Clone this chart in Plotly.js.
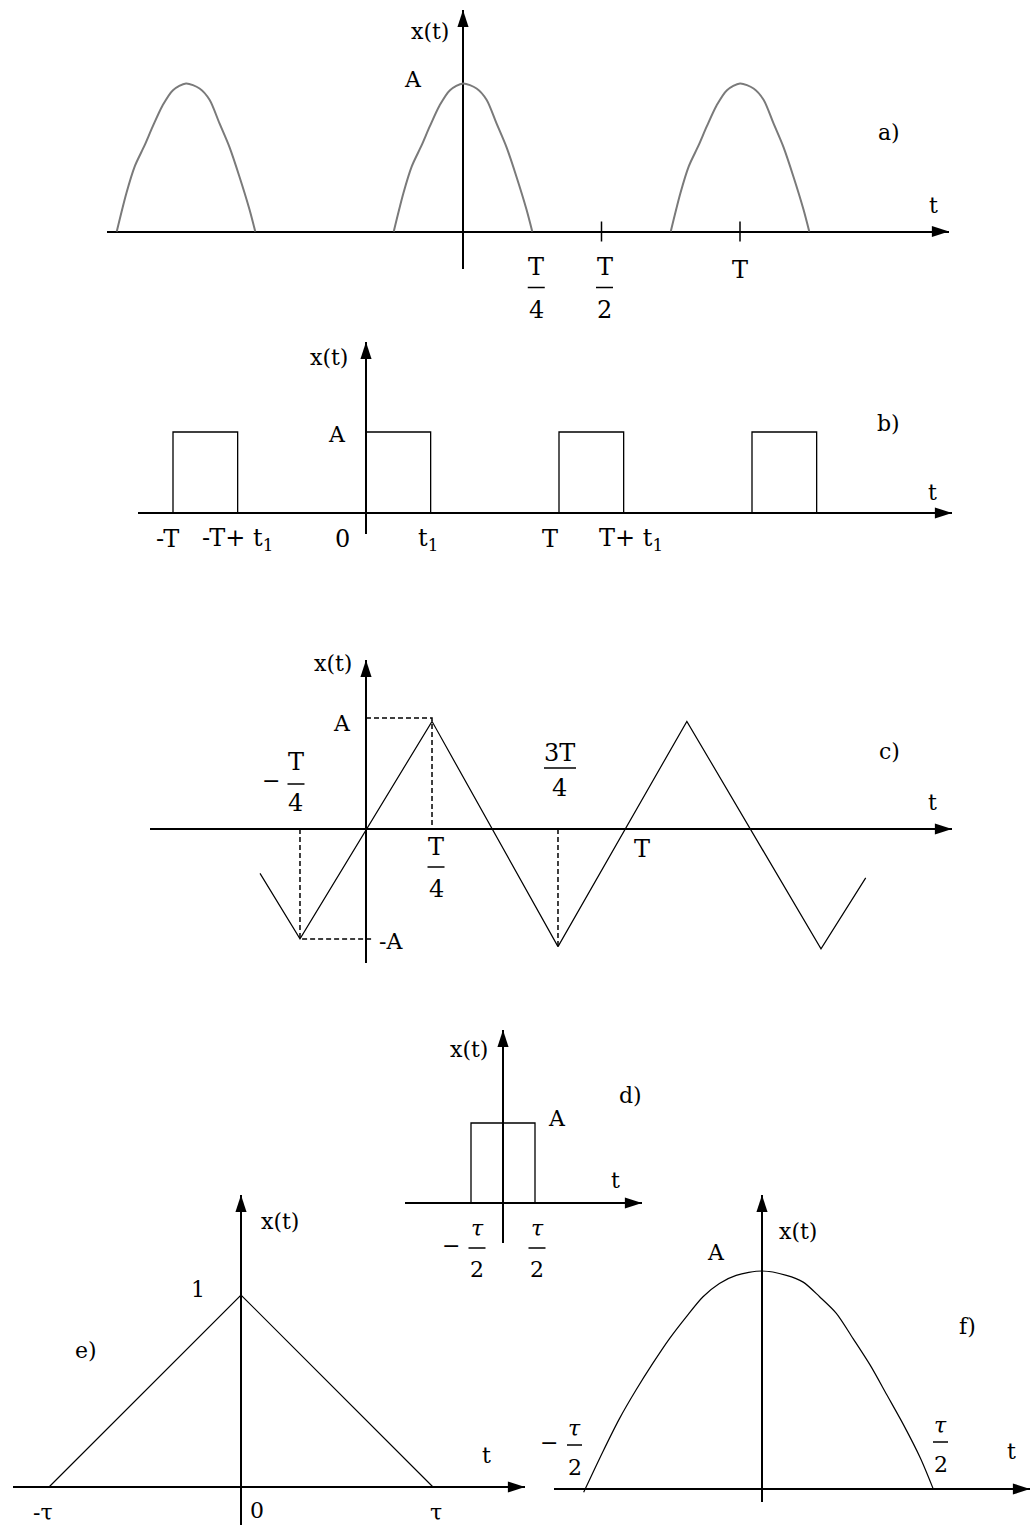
<!DOCTYPE html>
<html>
<head>
<meta charset="utf-8">
<script src="https://cdn.plot.ly/plotly-3.0.1.min.js"></script>
<style>
  html, body { margin: 0; padding: 0; background: #fff; }
  #grafico { width: 1032px; height: 1526px; }
</style>
</head>
<body>
<div id="grafico"></div>
<script>
const W = 1032, H = 1526;

// a) half cosine pulses, t in units of T, x in units of A
const humpT = [-0.25, -0.215, -0.185, -0.15, -0.12, -0.085, -0.047, 0, 0.049, 0.085, 0.121, 0.157, 0.193, 0.229, 0.25];
const humpY = [0, 0.26, 0.44, 0.58, 0.71, 0.85, 0.955, 1, 0.966, 0.89, 0.73, 0.57, 0.37, 0.15, 0];
const humpCenters = [-1, 0, 1];
const ticksA = [0.5, 1];

// b) rectangular pulse train
const pulseStarts = [-1, 0, 1, 2];
const pulseWidth = 0.335;   // t1 / T

// c) triangle wave vertices
const triT = [-0.403, -0.251, 0.251, 0.73, 1.22, 1.73, 1.90];
const triY = [-0.40, -0.99, 0.97, -1.06, 0.97, -1.08, -0.44];
const guideT = [0, 0.251, 0.251, null, -0.251, -0.251, 0.02, null, 0.73, 0.73];
const guideY = [1, 1, 0, null, 0, -0.99, -0.99, null, 0, -1.06];

// d) single rectangular pulse
const rectT = [-0.5, -0.5, 0.5, 0.5];
const rectY = [0, 1, 1, 0];

// e) triangular pulse
const triET = [-1, 0, 1];
const triEY = [0, 1, 0];

// f) cosine-like pulse, t in units of tau
const capT = [-0.511, -0.456, -0.408, -0.361, -0.313, -0.265, -0.217, -0.169, -0.122, -0.074, 0,
              0.07, 0.118, 0.165, 0.213, 0.261, 0.31, 0.358, 0.406, 0.454, 0.49];
const capY = [-0.015, 0.171, 0.324, 0.454, 0.576, 0.69, 0.79, 0.882, 0.943, 0.98, 1.0,
              0.98, 0.949, 0.882, 0.806, 0.69, 0.568, 0.431, 0.293, 0.141, 0.003];

// panel boxes in page pixels [left, right, top, bottom], origin and unit sizes
const panels = {
  a: { id: '',  box: [107, 949, 10, 269],   ox: 463, oy: 231.5, sx: 277, sy: 148 },
  b: { id: '2', box: [138, 952, 342, 534],  ox: 366, oy: 513,   sx: 193, sy: 81 },
  c: { id: '3', box: [150, 952, 660, 963],  ox: 366, oy: 829,   sx: 263, sy: 111 },
  d: { id: '4', box: [405, 642, 1030, 1243], ox: 503, oy: 1203, sx: 64,  sy: 80 },
  e: { id: '5', box: [13, 525, 1195, 1525], ox: 241, oy: 1487,  sx: 192, sy: 192 },
  f: { id: '6', box: [554, 1030, 1195, 1502], ox: 762, oy: 1489, sx: 349, sy: 218 }
};

const fam = 'DejaVu Serif';
const axisCommon = {
  showgrid: false, showticklabels: false, ticks: '', showline: false,
  zeroline: true, zerolinecolor: '#000', zerolinewidth: 2, fixedrange: true
};

let layout = {
  width: W, height: H,
  margin: { l: 0, r: 0, t: 0, b: 0 },
  paper_bgcolor: '#fff',
  plot_bgcolor: 'rgba(0,0,0,0)',
  showlegend: false,
  hovermode: false,
  annotations: []
};
let trazas = [];

Object.values(panels).forEach(p => {
  const [x0, x1, y0, y1] = p.box;
  p.xr = [(x0 - p.ox) / p.sx, (x1 - p.ox) / p.sx];
  p.yr = [(p.oy - y1) / p.sy, (p.oy - y0) / p.sy];
  layout['xaxis' + p.id] = Object.assign({ domain: [x0 / W, x1 / W], range: p.xr, anchor: 'y' + p.id }, axisCommon);
  layout['yaxis' + p.id] = Object.assign({ domain: [1 - y1 / H, 1 - y0 / H], range: p.yr, anchor: 'x' + p.id }, axisCommon);
  // arrow heads at the ends of both axes
  trazas.push({
    x: [p.xr[1], 0], y: [0, p.yr[1]],
    xaxis: 'x' + p.id, yaxis: 'y' + p.id,
    mode: 'markers', cliponaxis: false,
    marker: { symbol: 'arrow', size: 18, angle: [90, 0], color: '#000', line: { width: 0 } }
  });
});

function linea(p, x, y, color, width, opts) {
  trazas.push({
    x: x, y: y, xaxis: 'x' + p.id, yaxis: 'y' + p.id,
    mode: 'lines', line: Object.assign({ color: color, width: width }, opts || {})
  });
}

function label(text, X, Y, size) {
  layout.annotations.push({
    xref: 'paper', yref: 'paper', x: X / W, y: 1 - Y / H, text: text,
    showarrow: false, xanchor: 'center', yanchor: 'middle',
    font: { family: fam, size: size || 22, color: '#000' }
  });
}

function tickLabel(p, t, text, dx, dy, size) {
  layout.annotations.push({
    xref: 'x' + p.id, yref: 'y' + p.id, x: t, y: 0, xshift: dx, yshift: dy, text: text,
    showarrow: false, xanchor: 'center', yanchor: 'middle',
    font: { family: fam, size: size || 24, color: '#000' }
  });
}

// fraction bar: a headless annotation arrow, w pixels long
function bar(p, t, dx, dy, w) {
  layout.annotations.push({
    xref: 'x' + p.id, yref: 'y' + p.id, x: t, y: 0, xshift: dx + w / 2, yshift: dy,
    text: '', showarrow: true, arrowhead: 0, arrowwidth: 1.5, arrowcolor: '#000',
    ax: -w, ay: 0, standoff: 0, borderpad: 0, borderwidth: 0
  });
}

function fraccion(p, t, num, den, dx, dyNum, dyBar, dyDen, w, size) {
  tickLabel(p, t, num, dx, dyNum, size);
  bar(p, t, dx, dyBar, w);
  tickLabel(p, t, den, dx, dyDen, size);
}

// ---- a)
let hx = [], hy = [];
humpCenters.forEach(c => {
  humpT.forEach((t, i) => { hx.push(c + t); hy.push(humpY[i]); });
  hx.push(null); hy.push(null);
});
linea(panels.a, hx, hy, '#7a7a7a', 2, { shape: 'spline', smoothing: 0.8 });
let tx = [], ty = [];
ticksA.forEach(t => { tx.push(t, t, null); ty.push(-10 / panels.a.sy, 10 / panels.a.sy, null); });
linea(panels.a, tx, ty, '#000', 1.5);
fraccion(panels.a, 0.25, 'T', '4', 4, -35, -56, -78, 17, 24);
fraccion(panels.a, ticksA[0], 'T', '2', 3, -35, -56, -78, 17, 24);
tickLabel(panels.a, ticksA[1], 'T', 0, -38, 24);
label('x(t)', 430, 31);
label('A', 413, 80);
label('t', 933, 205);
label('a)', 889, 132);

// ---- b)
let bx = [], by = [];
pulseStarts.forEach(s => {
  bx.push(s, s, s + pulseWidth, s + pulseWidth, null);
  by.push(0, 1, 1, 0, null);
});
linea(panels.b, bx, by, '#000', 1.3);
tickLabel(panels.b, pulseStarts[0], '-T', -6, -26);
tickLabel(panels.b, pulseStarts[0] + pulseWidth, '-T+ t<sub>1</sub>', 0, -26);
tickLabel(panels.b, pulseStarts[1], '0', -24, -26);
tickLabel(panels.b, pulseStarts[1] + pulseWidth, 't<sub>1</sub>', -3, -26);
tickLabel(panels.b, pulseStarts[2], 'T', -9, -26);
tickLabel(panels.b, pulseStarts[2] + pulseWidth, 'T+ t<sub>1</sub>', 7, -26);
label('x(t)', 329, 357);
label('A', 337, 434);
label('t', 932, 492);
label('b)', 888, 424);

// ---- c)
linea(panels.c, guideT, guideY, '#000', 1.5, { dash: '5px,3px' });
linea(panels.c, triT, triY, '#000', 1.2);
tickLabel(panels.c, triT[1], '−', -29, 49, 22);
fraccion(panels.c, triT[1], 'T', '4', -4, 67, 45, 26, 17, 24);
fraccion(panels.c, triT[3], '3T', '4', 2, 76, 61, 41, 32, 24);
fraccion(panels.c, triT[2], 'T', '4', 4, -18, -38, -60, 17, 24);
tickLabel(panels.c, 1, 'T', 13, -20);
label('x(t)', 333, 664);
label('A', 342, 723);
label('-A', 391, 941);
label('t', 932, 802);
label('c)', 889, 751);

// ---- d)
linea(panels.d, rectT, rectY, '#000', 1.3);
tickLabel(panels.d, rectT[0], '−', -20, -42, 22);
fraccion(panels.d, rectT[0], '<i>τ</i>', '2', 6, -25, -45, -66, 17, 22);
fraccion(panels.d, rectT[2], '<i>τ</i>', '2', 2, -25, -45, -66, 17, 22);
label('x(t)', 469, 1049);
label('d)', 630, 1095);
label('A', 557, 1118);
label('t', 615, 1180);

// ---- e)
linea(panels.e, triET, triEY, '#000', 1.2);
tickLabel(panels.e, triET[0], '-τ', -6, -25, 22);
tickLabel(panels.e, triET[1], '0', 16, -23, 22);
tickLabel(panels.e, triET[2], 'τ', 3, -25, 22);
label('x(t)', 280, 1221);
label('1', 198, 1289);
label('e)', 86, 1350);
label('t', 486, 1455);

// ---- f)
linea(panels.f, capT, capY, '#000', 1.2, { shape: 'spline', smoothing: 0.8 });
tickLabel(panels.f, -0.5, '−', -39, 47, 22);
fraccion(panels.f, -0.5, '<i>τ</i>', '2', -13, 61, 44, 22, 15, 22);
fraccion(panels.f, 0.5, '<i>τ</i>', '2', 4, 64, 47, 25, 15, 22);
label('x(t)', 798, 1231);
label('A', 716, 1252);
label('f)', 967, 1326);
label('t', 1011, 1451);

Plotly.newPlot('grafico', trazas, layout, { displayModeBar: false, staticPlot: true });
</script>
</body>
</html>
